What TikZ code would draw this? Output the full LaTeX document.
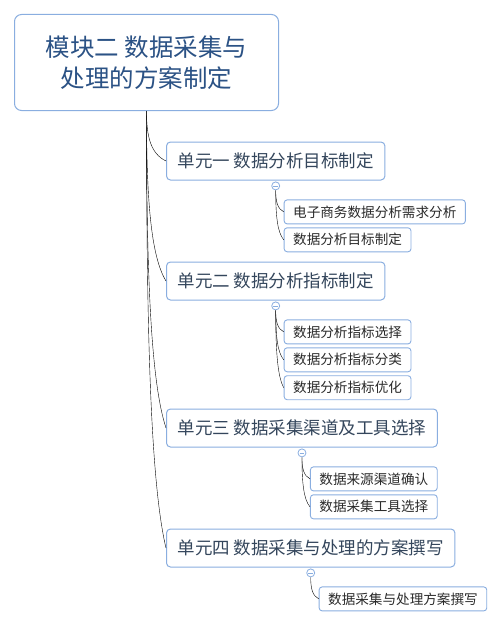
\documentclass[tikz,border=0pt]{standalone}
\usepackage{fontspec}
\setmainfont{Noto Sans CJK SC}
\usetikzlibrary{positioning,calc}
\definecolor{edge}{HTML}{8AAEE0}
\definecolor{rootfg}{HTML}{2B5285}
\definecolor{unitfg}{HTML}{34465C}
\definecolor{leaffg}{HTML}{2A2A2A}

\begin{document}
\begin{tikzpicture}[
  x=1pt, y=-1pt,
  every node/.append style={fill=white},
  rootbox/.style={draw=edge, line width=1pt, rounded corners=7pt, align=center,
    minimum width=264pt, minimum height=96pt, text=rootfg,
    font=\fontsize{24.5}{31}\selectfont},
  unitbox/.style={draw=edge, line width=1pt, rounded corners=4pt, anchor=west,
    inner xsep=11pt, minimum height=38pt, text=unitfg,
    font=\fontsize{17.5}{20}\selectfont},
  leafbox/.style={draw=edge, line width=0.9pt, rounded corners=3pt,
    inner xsep=9pt, inner ysep=0pt, minimum height=24pt, text=leaffg,
    font=\fontsize{13.6}{16}\selectfont},
  fold/.style={circle, draw=edge, line width=0.8pt, inner sep=0pt, minimum size=8pt,
    path picture={\draw[edge, line width=0.8pt]
      ([xshift=-2.3pt]path picture bounding box.center) --
      ([xshift=2.3pt]path picture bounding box.center);}},
  link/.style={draw=edge, line width=1pt,
    to path={let \p1=(\tikztostart), \p2=(\tikztotarget) in
      .. controls (\x1,{0.5*\y1+0.5*\y2}) and ({0.8*\x1+0.2*\x2},{0.85*\y2+0.15*\y1})
      .. (\tikztotarget)}},
]
\useasboundingbox (0,0) rectangle (502,626);
% --- module ---
\node[rootbox, anchor=north west] (root) at (14,14) {模块二 数据采集与\\处理的方案制定};
% --- units ---
\node[unitbox] (u1) at (166,161) {单元一 数据分析目标制定};
\node[unitbox] (u2) at (166,281) {单元二 数据分析指标制定};
\node[unitbox] (u3) at (166,428) {单元三 数据采集渠道及工具选择};
\node[unitbox] (u4) at (166,548) {单元四 数据采集与处理的方案撰写};
\foreach \u in {u1,u2,u3,u4}
  \draw (root.south) to[link] (\u.west);
% fold markers
\foreach \u in {1,...,4}
  \node[fold, below=1pt of u\u.south] (f\u) {};
% --- unit 1 ---
\node[leafbox, anchor=west] (l11) at ($(f1)+(8,26)$) {电子商务数据分析需求分析};
\node[leafbox, below=3pt of l11.south west, anchor=north west] (l12) {数据分析目标制定};
% --- unit 2 ---
\node[leafbox, anchor=west] (l21) at ($(f2)+(8,26)$) {数据分析指标选择};
\node[leafbox, below=3pt of l21.south west, anchor=north west] (l22) {数据分析指标分类};
\node[leafbox, below=3pt of l22.south west, anchor=north west] (l23) {数据分析指标优化};
% --- unit 3 ---
\node[leafbox, anchor=west] (l31) at ($(f3)+(8,26)$) {数据来源渠道确认};
\node[leafbox, below=3pt of l31.south west, anchor=north west] (l32) {数据采集工具选择};
% --- unit 4 ---
\node[leafbox, anchor=west] (l41) at ($(f4)+(8,26)$) {数据采集与处理方案撰写};
% leaf links
\foreach \f/\l in {f1/l11,f1/l12,f2/l21,f2/l22,f2/l23,f3/l31,f3/l32,f4/l41}
  \draw (\f.south) to[link] (\l.west);
\end{tikzpicture}
\end{document}
